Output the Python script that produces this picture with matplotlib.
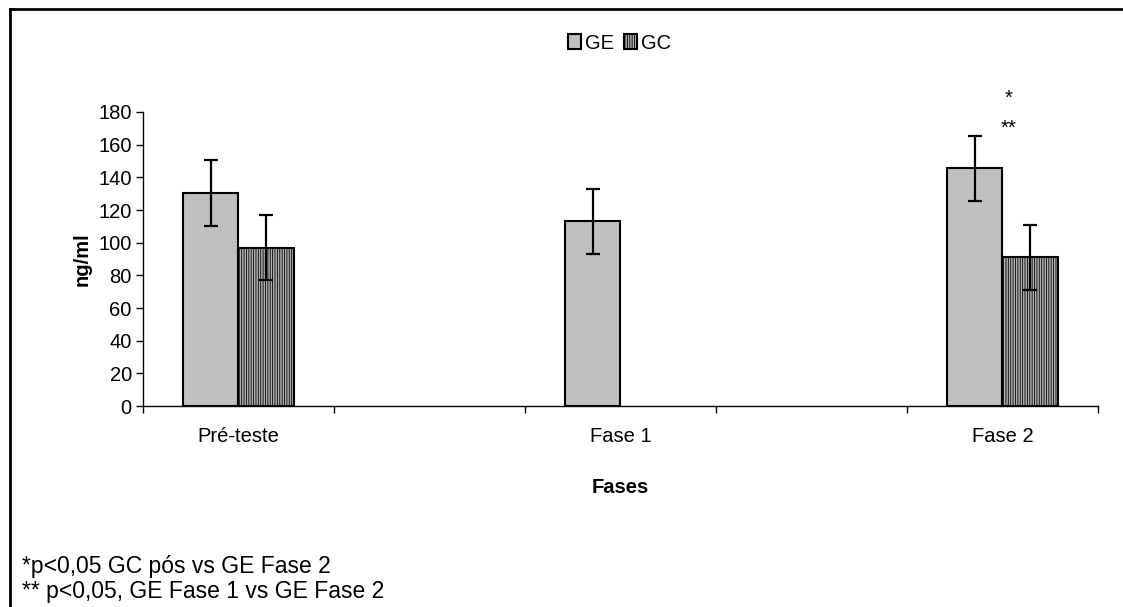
import matplotlib
matplotlib.use("Agg")
import matplotlib.pyplot as plt
from matplotlib.lines import Line2D
from matplotlib.patches import Patch
import numpy as np

plt.rcParams['font.family'] = ['Liberation Sans', 'DejaVu Sans']
plt.rcParams['hatch.linewidth'] = 0.6

# data (5 slots on the axis, labels on 1, 3, 5)
categories = ["Pré-teste", "", "Fase 1", "", "Fase 2"]
ge_values = [130.5, np.nan, 113, np.nan, 145.5]
gc_values = [97, np.nan, np.nan, np.nan, 91]
ge_err = [20, np.nan, 20, np.nan, 20]
gc_err = [20, np.nan, np.nan, np.nan, 20]
y_ticks = [0, 20, 40, 60, 80, 100, 120, 140, 160, 180]
footnotes = ["*p<0,05 GC pós vs GE Fase 2",
             "** p<0,05, GE Fase 1 vs GE Fase 2"]


def main():
    fig = plt.figure(figsize=(11.23, 6.07), dpi=100)
    ax = fig.add_axes([0.1273, 0.3311, 0.8504, 0.4844])

    x = np.arange(len(categories))
    w = 0.29
    fs = 14.5

    ax.bar(x - w / 2, ge_values, w, color='#c0c0c0', edgecolor='black',
           linewidth=1.5, zorder=2)
    ax.bar(x + w / 2, gc_values, w, color='#b0b0b0', edgecolor='black',
           linewidth=1.5, hatch='|||||||', zorder=2)
    ax.errorbar(x - w / 2, ge_values, yerr=ge_err, fmt='none', ecolor='black',
                elinewidth=1.6, capsize=5, capthick=1.6, zorder=3)
    ax.errorbar(x + w / 2, gc_values, yerr=gc_err, fmt='none', ecolor='black',
                elinewidth=1.6, capsize=5, capthick=1.6, zorder=3)

    # significance marks above Fase 2
    ax.text(4.03, 188.5, "*", ha='center', va='center', fontsize=fs)
    ax.text(4.03, 170, "**", ha='center', va='center', fontsize=fs)

    ax.set_xlim(-0.5, 4.5)
    ax.set_ylim(0, 180)
    ax.set_yticks(y_ticks)
    ax.set_xticks(np.arange(-0.5, 5, 1))
    ax.set_xticklabels([])
    ax.set_xticks(x, minor=True)
    ax.set_xticklabels(categories, minor=True)
    ax.tick_params(axis='x', which='minor', length=0, pad=15, labelsize=fs)
    ax.tick_params(axis='x', which='major', length=5, width=1, direction='out')
    ax.tick_params(axis='y', length=5, width=1, direction='out', labelsize=fs,
                   pad=3)
    for s in ['top', 'right']:
        ax.spines[s].set_visible(False)
    for s in ['left', 'bottom']:
        ax.spines[s].set_linewidth(1)

    ax.set_ylabel("ng/ml", fontsize=fs, fontweight='bold')
    ax.yaxis.set_label_coords(-0.054, 0.5)
    ax.set_xlabel("Fases", fontsize=fs, fontweight='bold')
    ax.xaxis.set_label_coords(0.5, -0.245)

    handles = [Patch(facecolor='#c0c0c0', edgecolor='black', linewidth=1.5),
               Patch(facecolor='#b0b0b0', edgecolor='black', linewidth=1.5,
                     hatch='|||||||')]
    fig.legend(handles, ["GE", "GC"], loc='center', bbox_to_anchor=(0.552, 0.929),
               ncol=2, frameon=False, fontsize=fs, handlelength=0.65,
               handleheight=0.75, handletextpad=0.2, columnspacing=0.5)

    for i, t in enumerate(footnotes):
        fig.text(0.02, 0.066 - i * 0.04, t, fontsize=16.5, ha='left',
                 va='center')

    # outer frame (only left and top visible)
    fig.add_artist(Line2D([0.0093, 0.0093], [0.0, 0.985], color='black',
                          linewidth=2, transform=fig.transFigure))
    fig.add_artist(Line2D([0.0093, 1.0], [0.985, 0.985], color='black',
                          linewidth=2, transform=fig.transFigure))

    fig.savefig("out.png", dpi=100)


if __name__ == "__main__":
    main()
